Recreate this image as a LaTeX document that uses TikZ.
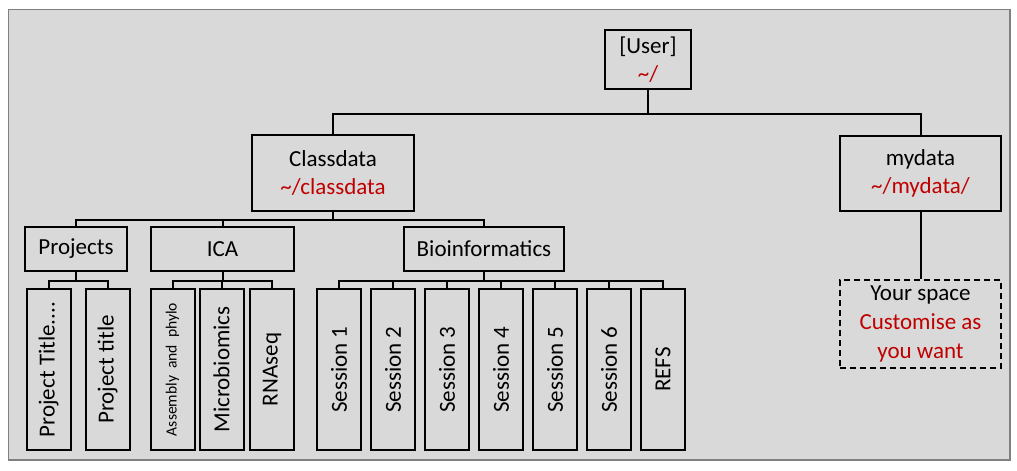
\documentclass[tikz,border=0pt]{standalone}
\usepackage{fontspec}
\setmainfont{Carlito}
\usepackage{graphicx}
\definecolor{bggray}{RGB}{217,217,217}
\definecolor{framegray}{RGB}{128,128,128}
\definecolor{pathred}{RGB}{192,0,0}
\newcommand{\pathtxt}[1]{\textcolor{pathred}{#1}}

\begin{document}
\begin{tikzpicture}[x=0.5pt, y=-0.5pt, line join=miter,
    every node/.style={font=\fontsize{11.5}{14.3}\selectfont},
    dirbox/.style={draw, line width=1pt, align=center, inner sep=0pt},
    leafbox/.style={draw, line width=1pt, inner sep=0pt, minimum width=22pt, minimum height=80.5pt},
    link/.style={line width=1pt}]
    \def\leafy{369.5}

    \useasboundingbox (0,0) rectangle (1017,471);
    \draw[draw=framegray, fill=bggray, line width=0.6pt] (8.5,9.5) rectangle (1010,460);

    \node[dirbox, minimum width=43pt, minimum height=29.5pt] (user) at (648,59.5) {[User]\\\pathtxt{\textasciitilde/}};
    \node[dirbox, minimum width=81pt, minimum height=38pt] (classdata) at (333,173) {Classdata\\\pathtxt{\textasciitilde/classdata}};
    \node[dirbox, minimum width=80.5pt, minimum height=37.5pt] (mydata) at (920.5,173.5) {mydata\\\pathtxt{\textasciitilde/mydata/}};
    \node[dirbox, dash pattern=on 3pt off 2pt, minimum width=80.5pt, minimum height=44pt] (yourspace) at (920.5,324)
        {Your space\\\pathtxt{Customise as}\\\pathtxt{you want}};

    \node[dirbox, minimum width=51pt, minimum height=22pt] (projects) at (76,249) {Projects};
    \node[dirbox, minimum width=71.5pt, minimum height=22pt] (ica) at (222.5,249) {ICA};
    \node[dirbox, minimum width=80pt, minimum height=22pt] (bioinf) at (484,249) {Bioinformatics};

    \node[leafbox] (pt1) at (48.5,\leafy) {\rotatebox{90}{Project Title....}};
    \node[leafbox] (pt2) at (107.5,\leafy) {\rotatebox{90}{Project title}};
    \node[leafbox, font=\fontsize{7.8}{9}\selectfont] (asm) at (172.5,\leafy) {\rotatebox{90}{Assembly\hspace{0.45em}and\hspace{0.45em}phylo}};
    \node[leafbox] (micro) at (221.5,\leafy) {\rotatebox{90}{Microbiomics}};
    \node[leafbox] (rna) at (272,\leafy) {\rotatebox{90}{RNAseq}};
    \foreach \i in {1,...,6} {
        \node[leafbox] (s\i) at ({339+54*(\i-1)},\leafy) {\rotatebox{90}{Session \i}};
    }
    \node[leafbox] (refs) at (663,\leafy) {\rotatebox{90}{REFS}};

    \foreach \c in {classdata,mydata}
        \draw[link] (user.south) -- ++(0,23.5) -| (\c.north);
    \draw[link] (mydata.south) -- (yourspace.north);
    \foreach \c in {projects,ica,bioinf}
        \draw[link] (classdata.south) -- ++(0,8) -| (\c.north);
    \foreach \c in {pt1,pt2}
        \draw[link] (projects.south) -- ++(0,8.5) -| (\c.north);
    \foreach \c in {asm,micro,rna}
        \draw[link] (ica.south) -- ++(0,8.5) -| (\c.north);
    \foreach \c in {s1,s2,s3,s4,s5,s6,refs}
        \draw[link] (bioinf.south) -- ++(0,8.5) -| (\c.north);
\end{tikzpicture}
\end{document}
